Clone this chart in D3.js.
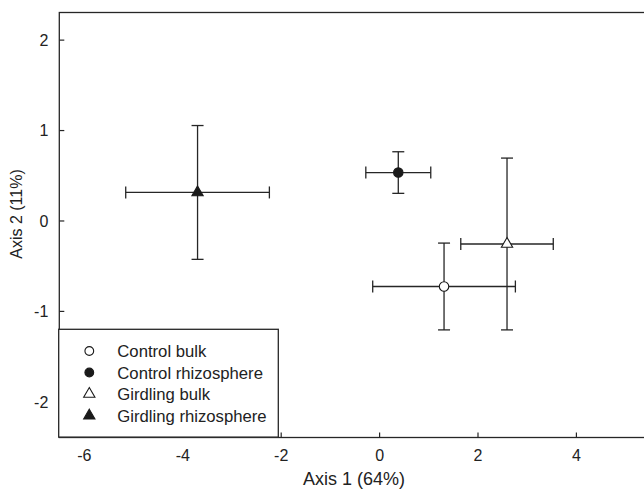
<!DOCTYPE html>
<html>
<head>
<meta charset="utf-8">
<script src="https://cdn.jsdelivr.net/npm/d3@7"></script>
<style>
  html, body { margin: 0; padding: 0; background: #fff; }
  svg { display: block; font-family: "Liberation Sans", Arial, sans-serif; }
</style>
</head>
<body>
<svg id="chart" width="644" height="493"></svg>
<script>
// Data
const groups = ["Control bulk", "Control rhizosphere", "Girdling bulk", "Girdling rhizosphere"];
const axis1  = [1.32, 0.39, 2.60, -3.69];
const axis2  = [-0.73, 0.53, -0.26, 0.31];
const err1   = [1.45, 0.66, 0.94, 1.46];
const err2   = [0.48, 0.23, 0.95, 0.74];
const xTicks = [-6, -4, -2, 0, 2, 4];
const yTicks = [-2, -1, 0, 1, 2];
const xTitle = "Axis 1 (64%)";
const yTitle = "Axis 2 (11%)";

const symbolType = [d3.symbolCircle, d3.symbolCircle, d3.symbolTriangle, d3.symbolTriangle];
const symbolFill = ["#fff", "#1a1a1a", "#fff", "#1a1a1a"];

const svg = d3.select("#chart");
const pLeft = 59.3, pTop = 12.5, pBottom = 437.5, pRight = 649.7;
const x = d3.scaleLinear().domain([-6.5, 5.5]).range([pLeft, pRight]);
const y = d3.scaleLinear().domain([-2.4, 2.3]).range([pBottom, pTop]);
const ink = "#262626";

// Frame
svg.append("rect")
  .attr("x", pLeft).attr("y", pTop)
  .attr("width", pRight - pLeft).attr("height", pBottom - pTop)
  .attr("fill", "none").attr("stroke", ink).attr("stroke-width", 1.3);

// Axes with inward ticks
const xAxis = svg.append("g").attr("transform", `translate(0,${pBottom})`)
  .call(d3.axisBottom(x).tickValues(xTicks).tickSizeInner(-5).tickSizeOuter(0).tickPadding(12)
        .tickFormat(d => d < 0 ? "-" + Math.abs(d) : d));
const yAxis = svg.append("g").attr("transform", `translate(${pLeft},0)`)
  .call(d3.axisLeft(y).tickValues(yTicks).tickSizeInner(-5).tickSizeOuter(0).tickPadding(11)
        .tickFormat(d => d < 0 ? "-" + Math.abs(d) : d));
[xAxis, yAxis].forEach(g => {
  g.select(".domain").remove();
  g.selectAll(".tick line").attr("stroke", ink).attr("stroke-width", 1.2);
  g.selectAll(".tick text").attr("fill", "#222").style("font-size", "16px")
    .style("font-family", '"Liberation Sans", Arial, sans-serif');
});
yAxis.selectAll(".tick text").attr("dy", "0.36em");

// Axis titles
svg.append("text").attr("x", 354).attr("y", 485).attr("text-anchor", "middle")
  .attr("fill", "#222").style("font-size", "18px").text(xTitle);
svg.append("text").attr("transform", "translate(22,214) rotate(-90)").attr("text-anchor", "middle")
  .attr("fill", "#222").style("font-size", "16px").text(yTitle);

// Error bars
const cap = 6;
const g = svg.append("g");
groups.forEach((name, i) => {
  const cx = x(axis1[i]), cy = y(axis2[i]);
  const x0 = x(axis1[i] - err1[i]), x1 = x(axis1[i] + err1[i]);
  const y0 = y(axis2[i] - err2[i]), y1 = y(axis2[i] + err2[i]);
  const eb = g.append("g").attr("stroke", ink).attr("stroke-width", 1.3).attr("fill", "none");
  eb.append("line").attr("x1", x0).attr("x2", x1).attr("y1", cy).attr("y2", cy);
  eb.append("line").attr("x1", x0).attr("x2", x0).attr("y1", cy - cap).attr("y2", cy + cap);
  eb.append("line").attr("x1", x1).attr("x2", x1).attr("y1", cy - cap).attr("y2", cy + cap);
  eb.append("line").attr("x1", cx).attr("x2", cx).attr("y1", y0).attr("y2", y1);
  eb.append("line").attr("x1", cx - cap).attr("x2", cx + cap).attr("y1", y0).attr("y2", y0);
  eb.append("line").attr("x1", cx - cap).attr("x2", cx + cap).attr("y1", y1).attr("y2", y1);
});
// Markers
groups.forEach((name, i) => {
  const size = symbolType[i] === d3.symbolCircle ? 70 : 55;
  g.append("path")
    .attr("d", d3.symbol().type(symbolType[i]).size(size)())
    .attr("transform", `translate(${x(axis1[i])},${y(axis2[i])})`)
    .attr("fill", symbolFill[i]).attr("stroke", "#1a1a1a").attr("stroke-width", 1.1);
});

// Legend
const lg = svg.append("g");
lg.append("rect").attr("x", 58.7).attr("y", 329.3).attr("width", 219.6).attr("height", 107.8)
  .attr("fill", "#fff").attr("stroke", ink).attr("stroke-width", 1.3);
const rowY = [351, 372.5, 394, 415.7];
groups.forEach((name, i) => {
  const size = symbolType[i] === d3.symbolCircle ? 60 : 55;
  lg.append("path")
    .attr("d", d3.symbol().type(symbolType[i]).size(size)())
    .attr("transform", `translate(89.3,${rowY[i]})`)
    .attr("fill", symbolFill[i]).attr("stroke", "#1a1a1a").attr("stroke-width", 1.1);
  lg.append("text").attr("x", 117.3).attr("y", rowY[i]).attr("dy", "0.36em")
    .attr("fill", "#222").style("font-size", "16.7px").text(name);
});
</script>
</body>
</html>
